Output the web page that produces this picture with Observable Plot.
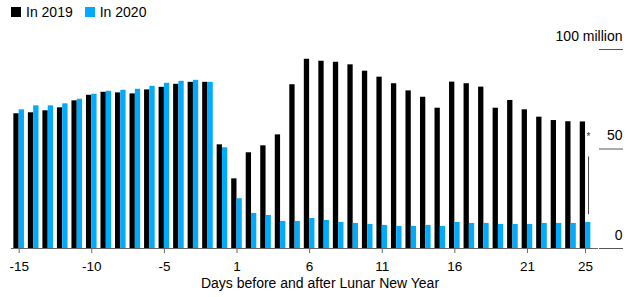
<!DOCTYPE html>
<html><head><meta charset="utf-8">
<script src="https://cdn.jsdelivr.net/npm/d3@7"></script>
<script src="https://cdn.jsdelivr.net/npm/@observablehq/plot@0.6"></script>
<style>
body{margin:0;background:#fff;font-family:"Liberation Sans",Arial,sans-serif;}
#legend{height:24px;display:flex;align-items:center;padding-left:11px;font-size:14px;color:#000;box-sizing:border-box;}
.item{display:flex;align-items:center;margin-right:12px;}
.sw{width:10px;height:10px;display:inline-block;margin-right:5px;}
</style></head><body>
<div id="legend"></div>
<div id="chart"></div>
<script>
// Data (values in millions of trips)
const days = [-15,-14,-13,-12,-11,-10,-9,-8,-7,-6,-5,-4,-3,-2,-1,
  1,2,3,4,5,6,7,8,9,10,11,12,13,14,15,16,17,18,19,20,21,22,23,24,25];
const trips2019 = [67.7,68.2,69.2,70.7,74.2,77.0,78.5,78.2,77.7,79.7,81.0,82.5,83.5,83.5,52.1,
  35.0,48.1,51.6,57.1,82.3,95.1,94.1,93.6,92.3,89.1,86.1,82.8,79.2,76.0,70.5,83.6,82.8,81.1,70.5,74.4,69.7,66.0,64.3,63.7,63.6];
const trips2020 = [69.7,71.7,71.7,72.7,75.0,77.5,79.0,79.5,80.0,81.5,83.0,84.0,84.5,83.5,50.6,
  25.0,17.6,16.6,13.6,13.6,15.1,14.1,13.1,12.6,12.1,11.6,11.1,11.1,11.6,11.1,13.1,12.6,12.6,12.1,12.1,12.1,12.6,12.6,12.6,13.1];
const tickDays = [-15,-10,-5,1,6,11,16,21,25];
const yTicks = [0,50,100];
const seriesNames = ["In 2019","In 2020"];
const seriesColors = ["#000000","#00aaff"];
const xLabel = "Days before and after Lunar New Year";
const yUnitLabel = "100 million";
const noteDay = [25];
const noteLineFrom = 17, noteLineTo = 46, noteMarkValue = 56;
const noteMark = "*";

// Legend
const legend = document.getElementById("legend");
seriesNames.forEach((n,i) => {
  const it = document.createElement("div"); it.className = "item";
  const sw = document.createElement("span"); sw.className = "sw"; sw.style.background = seriesColors[i];
  it.appendChild(sw); it.appendChild(document.createTextNode(n));
  legend.appendChild(it);
});

const rows2019 = days.map((d,i) => ({day:d, v:trips2019[i]}));
const rows2020 = days.map((d,i) => ({day:d, v:trips2020[i]}));

const chart = Plot.plot({
  width: 640, height: 273,
  marginLeft: 11, marginRight: 42, marginTop: 25, marginBottom: 49,
  style: {fontFamily: "'Liberation Sans', Arial, sans-serif", fontSize: "14px", color: "#000", background: "#fff"},
  x: {type: "band", domain: days, range: [11.4, 592.3], paddingInner: 0.635, paddingOuter: 0.3175, round: false},
  y: {domain: [0, 100]},
  marks: [
    Plot.barY(rows2019, {x: "day", y: "v", fill: seriesColors[0], dx: -2.65}),
    Plot.barY(rows2020, {x: "day", y: "v", fill: seriesColors[1], dx: 2.65}),
    Plot.ruleY([0], {stroke: "#666"}),
    Plot.axisX({ticks: tickDays, tickSize: 5, tickPadding: 8, stroke: "#666", fontSize: 13.5, label: null}),
    Plot.axisY({anchor: "right", ticks: yTicks, tickSize: 24, stroke: "#555", tickFormat: () => "", label: null}),
    Plot.axisY({anchor: "right", ticks: yTicks, tickSize: 0, tickPadding: 0, textAnchor: "end", dx: 24, dy: -13, fontSize: 14,
      tickFormat: d => d === 100 ? yUnitLabel : String(d), label: null}),
    Plot.text([xLabel], {frameAnchor: "bottom", dx: 15, dy: 35, lineAnchor: "middle", fontSize: 14, fill: "#000"}),
    Plot.ruleX(noteDay, {x: d => d, y1: noteLineFrom, y2: noteLineTo, dx: 3, stroke: "#444", strokeWidth: 1}),
    Plot.text(noteDay, {x: d => d, y: noteMarkValue, text: () => noteMark, dx: 3, fontSize: 10, fill: "#333"})
  ]
});
document.getElementById("chart").appendChild(chart);
</script>
</body></html>
